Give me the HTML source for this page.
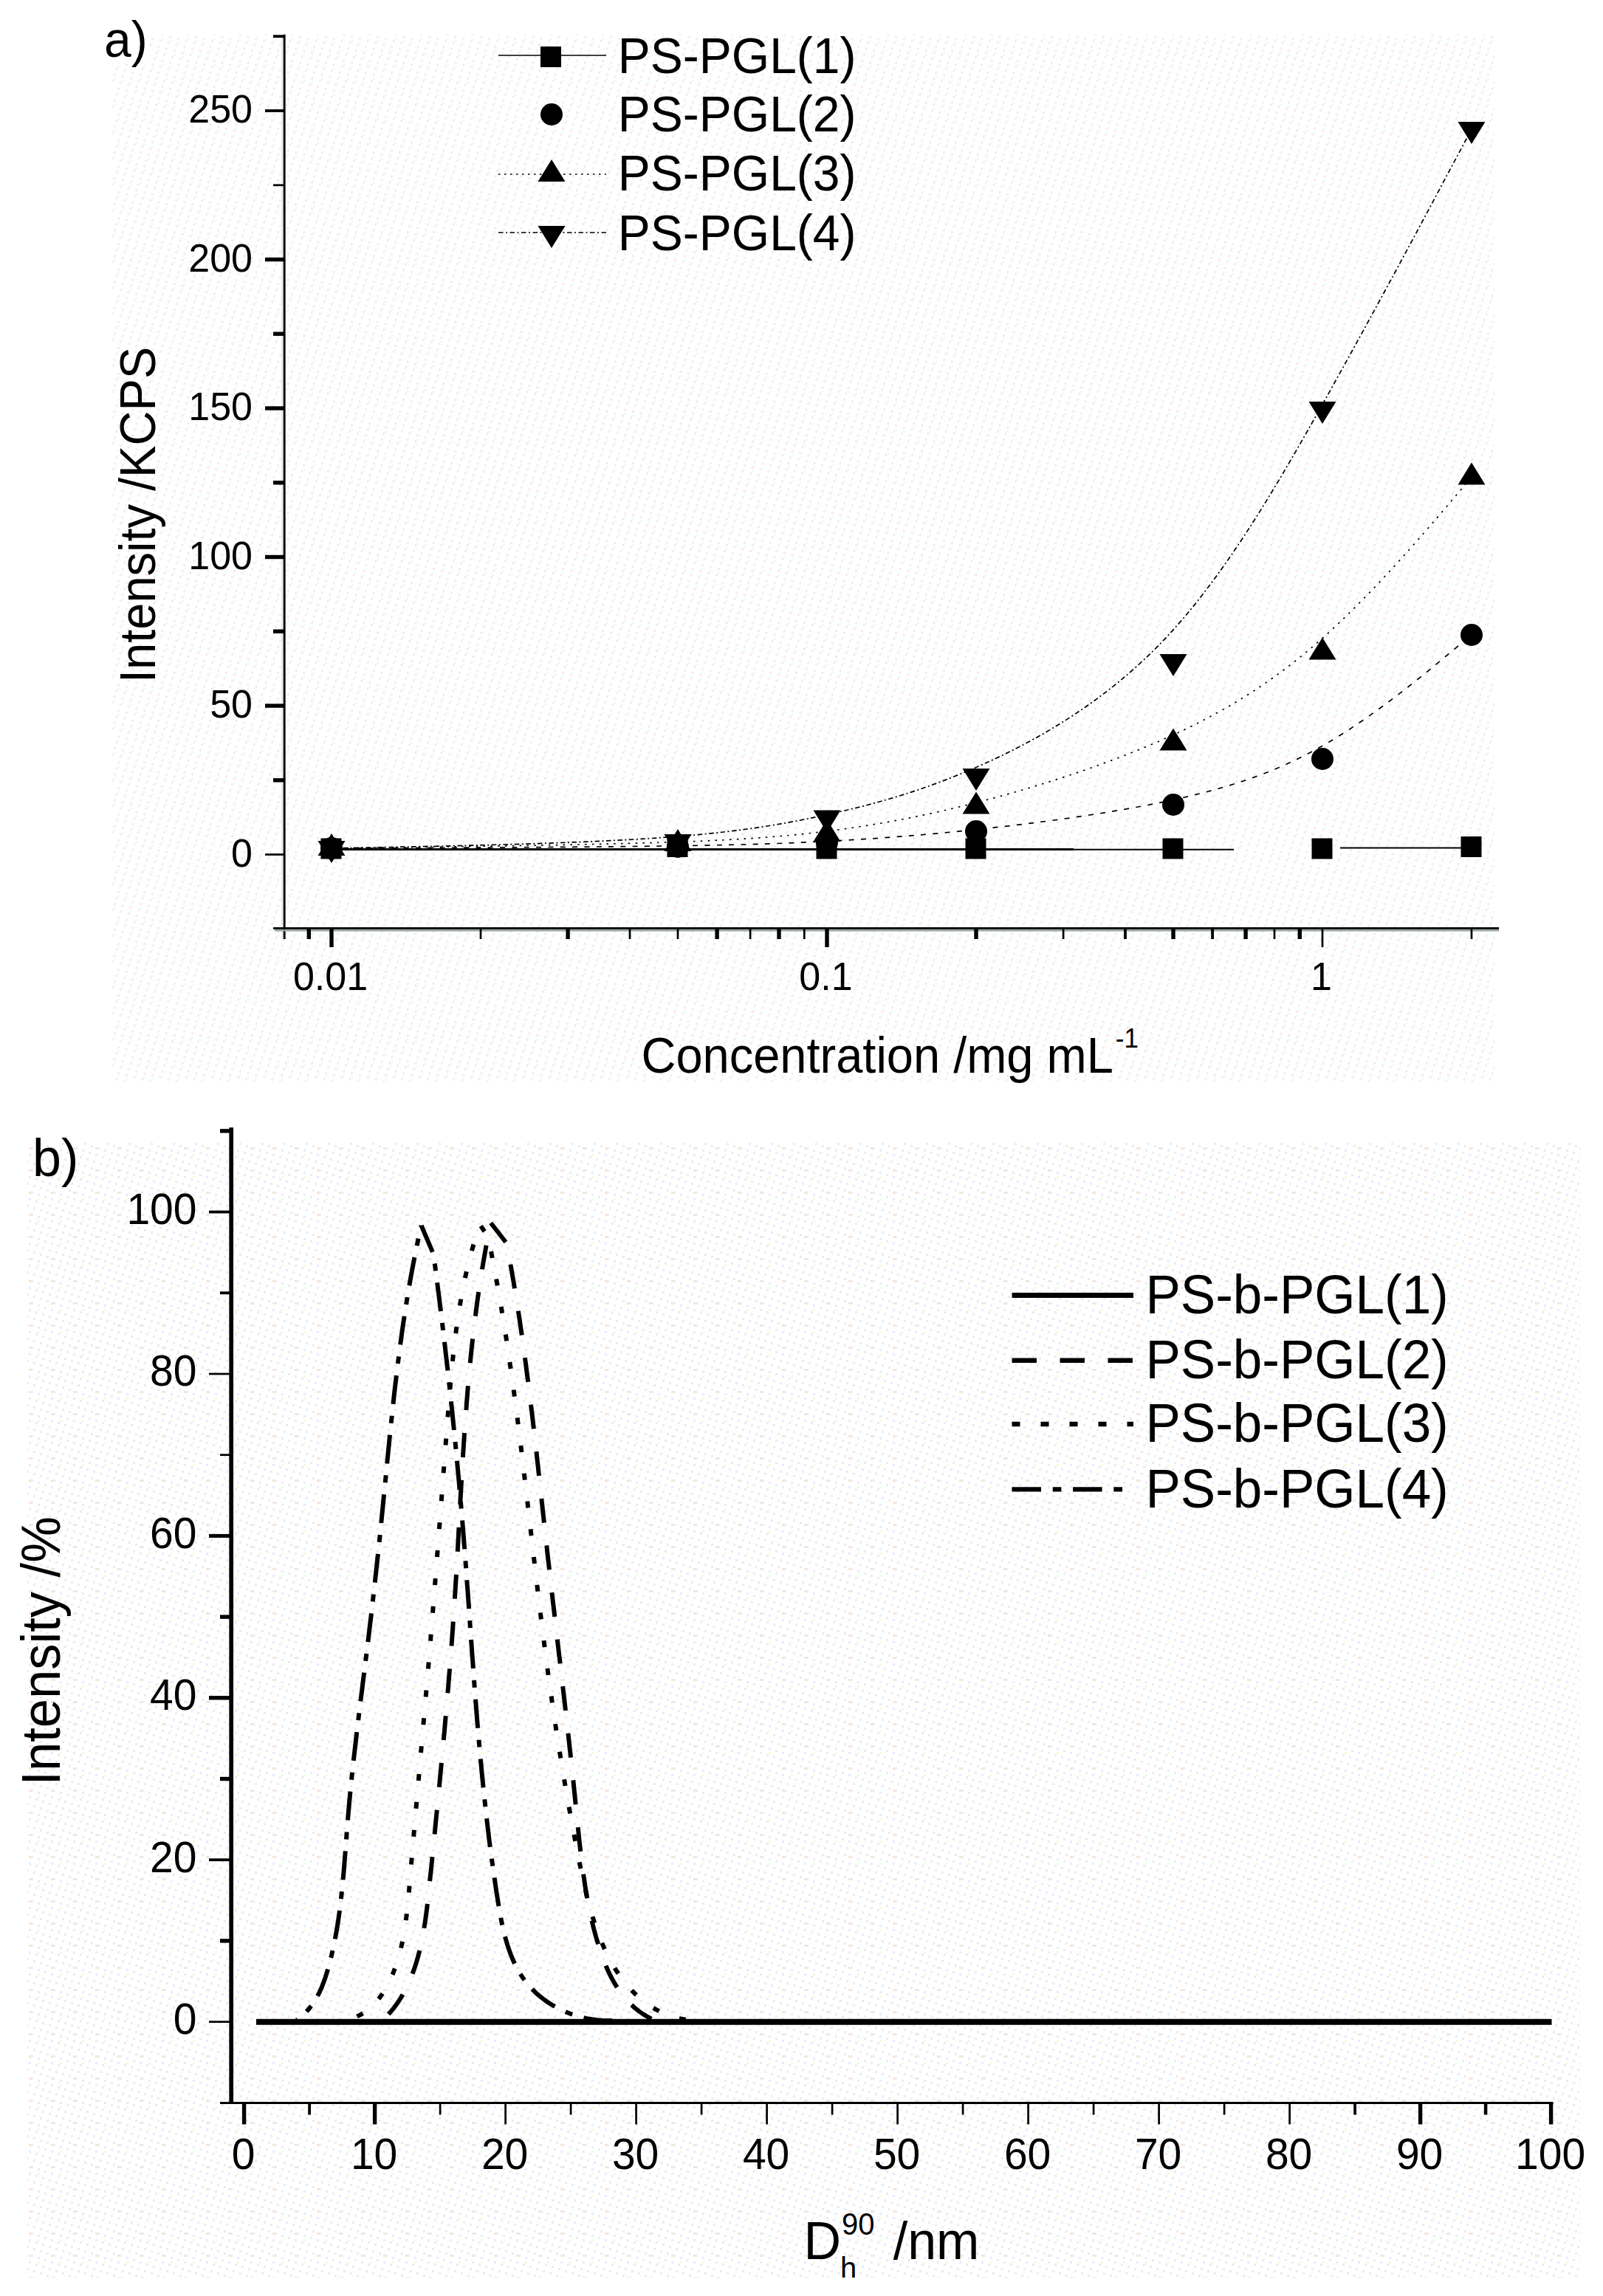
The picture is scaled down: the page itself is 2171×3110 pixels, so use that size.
<!DOCTYPE html>
<html lang="en"><head><meta charset="utf-8"><title>Light scattering of PS-PGL block copolymers</title>
<style>html,body{margin:0;padding:0;background:#fff}svg{display:block}text{font-family:"Liberation Sans",Arial,Helvetica,sans-serif;fill:#000}</style></head><body>
<svg width="2171" height="3110" viewBox="0 0 2171 3110">
<defs>
<pattern id="dithA" width="35.1" height="35.1" patternUnits="userSpaceOnUse"><rect x="0" y="0" width="2.7" height="2.7" fill="#f4e6e6"/><rect x="2.7" y="32.4" width="2.7" height="2.7" fill="#e6fbff"/><rect x="2.7" y="27" width="2.7" height="2.7" fill="#f4e6e6"/><rect x="5.4" y="18.9" width="2.7" height="2.7" fill="#f4e6e6"/><rect x="8.1" y="16.2" width="2.7" height="2.7" fill="#e6fbff"/><rect x="8.1" y="10.8" width="2.7" height="2.7" fill="#f4e6e6"/><rect x="10.8" y="2.7" width="2.7" height="2.7" fill="#f4e6e6"/><rect x="13.5" y="0" width="2.7" height="2.7" fill="#e6fbff"/><rect x="13.5" y="29.7" width="2.7" height="2.7" fill="#f4e6e6"/><rect x="16.2" y="21.6" width="2.7" height="2.7" fill="#f4e6e6"/><rect x="18.9" y="18.9" width="2.7" height="2.7" fill="#e6fbff"/><rect x="18.9" y="13.5" width="2.7" height="2.7" fill="#f4e6e6"/><rect x="21.6" y="5.4" width="2.7" height="2.7" fill="#f4e6e6"/><rect x="24.3" y="2.7" width="2.7" height="2.7" fill="#e6fbff"/><rect x="24.3" y="32.4" width="2.7" height="2.7" fill="#f4e6e6"/><rect x="27" y="24.3" width="2.7" height="2.7" fill="#f4e6e6"/><rect x="29.7" y="21.6" width="2.7" height="2.7" fill="#e6fbff"/><rect x="29.7" y="16.2" width="2.7" height="2.7" fill="#f4e6e6"/><rect x="32.4" y="8.1" width="2.7" height="2.7" fill="#f4e6e6"/><rect x="0" y="5.4" width="2.7" height="2.7" fill="#e6fbff"/></pattern>
<pattern id="dithB" width="30" height="30" patternUnits="userSpaceOnUse"><rect x="0" y="0" width="3" height="3" fill="#eaeaf7"/><rect x="3" y="21" width="3" height="3" fill="#eaeaf7"/><rect x="9" y="24" width="3" height="3" fill="#ffe3cf"/><rect x="6" y="12" width="3" height="3" fill="#eaeaf7"/><rect x="9" y="3" width="3" height="3" fill="#eaeaf7"/><rect x="12" y="24" width="3" height="3" fill="#eaeaf7"/><rect x="15" y="15" width="3" height="3" fill="#eaeaf7"/><rect x="18" y="6" width="3" height="3" fill="#eaeaf7"/><rect x="21" y="3" width="3" height="3" fill="#efffda"/><rect x="21" y="27" width="3" height="3" fill="#eaeaf7"/><rect x="24" y="18" width="3" height="3" fill="#eaeaf7"/><rect x="27" y="9" width="3" height="3" fill="#eaeaf7"/></pattern>
<clipPath id="clipb"><rect x="0" y="0" width="2171" height="3085"/></clipPath>
</defs>
<rect width="2171" height="3110" fill="#fff"/>
<rect x="152" y="47" width="1872" height="1418" fill="url(#dithA)"/>
<rect x="37" y="1548" width="2103" height="1537" fill="url(#dithB)"/>
<g id="panel-a" stroke="#000" fill="#000">
<line x1="382.6" y1="50" x2="382.6" y2="1272" stroke="#e7e4dd" stroke-width="2.6"/>
<line x1="385.2" y1="46.7" x2="385.2" y2="1272" stroke-width="2.8"/>
<line x1="370" y1="1257.4" x2="2030" y2="1257.4" stroke-width="2.8"/>
<line x1="372" y1="1260.2" x2="2030" y2="1260.2" stroke="#9aa5a5" stroke-width="2.6"/>
<line x1="359" y1="1157.5" x2="385" y2="1157.5" stroke-width="2.7"/>
<line x1="359" y1="956" x2="385" y2="956" stroke-width="5.4"/>
<line x1="359" y1="754.5" x2="385" y2="754.5" stroke-width="5.4"/>
<line x1="359" y1="553" x2="385" y2="553" stroke-width="5.4"/>
<line x1="359" y1="351.5" x2="385" y2="351.5" stroke-width="5.4"/>
<line x1="359" y1="150" x2="385" y2="150" stroke-width="3.8"/>
<line x1="370" y1="1056.8" x2="385" y2="1056.8" stroke-width="5.4"/>
<line x1="370" y1="855.2" x2="385" y2="855.2" stroke-width="5.4"/>
<line x1="370" y1="653.8" x2="385" y2="653.8" stroke-width="5.4"/>
<line x1="370" y1="452.2" x2="385" y2="452.2" stroke-width="5.4"/>
<line x1="370" y1="250.8" x2="385" y2="250.8" stroke-width="2.7"/>
<line x1="370" y1="49.2" x2="385" y2="49.2" stroke-width="3.8"/>
<line x1="449" y1="1257" x2="449" y2="1283" stroke-width="5.4"/>
<line x1="1120" y1="1257" x2="1120" y2="1283" stroke-width="5.4"/>
<line x1="1791" y1="1257" x2="1791" y2="1283" stroke-width="2.7"/>
<line x1="418.3" y1="1257" x2="418.3" y2="1272" stroke-width="5.4"/>
<line x1="651" y1="1257" x2="651" y2="1272" stroke-width="2.7"/>
<line x1="769.1" y1="1257" x2="769.1" y2="1272" stroke-width="5.4"/>
<line x1="853" y1="1257" x2="853" y2="1272" stroke-width="2.7"/>
<line x1="918" y1="1257" x2="918" y2="1272" stroke-width="2.7"/>
<line x1="971.1" y1="1257" x2="971.1" y2="1272" stroke-width="5.4"/>
<line x1="1016.1" y1="1257" x2="1016.1" y2="1272" stroke-width="2.7"/>
<line x1="1055" y1="1257" x2="1055" y2="1272" stroke-width="5.4"/>
<line x1="1089.3" y1="1257" x2="1089.3" y2="1272" stroke-width="2.7"/>
<line x1="1322" y1="1257" x2="1322" y2="1272" stroke-width="5.4"/>
<line x1="1440.1" y1="1257" x2="1440.1" y2="1272" stroke-width="2.7"/>
<line x1="1524" y1="1257" x2="1524" y2="1272" stroke-width="3.8"/>
<line x1="1589" y1="1257" x2="1589" y2="1272" stroke-width="5.4"/>
<line x1="1642.1" y1="1257" x2="1642.1" y2="1272" stroke-width="3.8"/>
<line x1="1687.1" y1="1257" x2="1687.1" y2="1272" stroke-width="5.4"/>
<line x1="1726" y1="1257" x2="1726" y2="1272" stroke-width="2.7"/>
<line x1="1760.3" y1="1257" x2="1760.3" y2="1272" stroke-width="5.4"/>
<line x1="1993" y1="1257" x2="1993" y2="1272" stroke-width="2.7"/>
</g>
<g id="labels-a" stroke="none">
<text transform="translate(342 1173.5) scale(1 1.04)" font-size="52" text-anchor="end">0</text>
<text transform="translate(342 972) scale(1 1.04)" font-size="52" text-anchor="end">50</text>
<text transform="translate(342 770.5) scale(1 1.04)" font-size="52" text-anchor="end">100</text>
<text transform="translate(342 569) scale(1 1.04)" font-size="52" text-anchor="end">150</text>
<text transform="translate(342 367.5) scale(1 1.04)" font-size="52" text-anchor="end">200</text>
<text transform="translate(342 166) scale(1 1.04)" font-size="52" text-anchor="end">250</text>
<text transform="translate(447.5 1341) scale(1 1.04)" font-size="52" text-anchor="middle">0.01</text>
<text transform="translate(1118.5 1341) scale(1 1.04)" font-size="52" text-anchor="middle">0.1</text>
<text transform="translate(1789.5 1341) scale(1 1.04)" font-size="52" text-anchor="middle">1</text>
<rect x="138" y="28" width="64" height="58" fill="#fff"/>
<text transform="translate(141 76.5) scale(1 1.04)" font-size="66" text-anchor="start">a)</text>
<text transform="translate(868.5 1452.5) scale(1 1.04)" font-size="65" text-anchor="start">Concentration /mg mL<tspan font-size="35" dy="-32" dx="3">-1</tspan></text>
<text transform="translate(209.7 925) rotate(-90) scale(1 1.04)" font-size="65">Intensity /KCPS</text>
</g>
<g id="curves-a" fill="none" stroke="#000" stroke-width="1.7">
<line x1="449" y1="1150.5" x2="1454" y2="1150.5" stroke-width="3"/>
<line x1="1454" y1="1150.8" x2="1671" y2="1150.8" stroke-width="2"/>
<line x1="1815" y1="1148.5" x2="1993" y2="1148.5" stroke-width="2"/>
<path d="M449 1149C449 1149 449 1149 527.2 1148.7C605.3 1148.3 761.7 1147.7 873.5 1146.3C985.3 1145 1052.7 1143 1120 1139.5C1187.3 1136 1254.7 1131 1332.8 1122.5C1411 1114 1500 1102 1578.2 1085.7C1656.3 1069.3 1723.7 1048.7 1791 1010.3C1858.3 972 1925.7 916 1959.3 888C1993 860 1993 860 1993 860" stroke-dasharray="7 9.3"/>
<path d="M449 1149C449 1149 449 1149 527.2 1148C605.3 1147 761.7 1145 873.5 1141.8C985.3 1138.7 1052.7 1134.3 1120 1125.9C1187.3 1117.5 1254.7 1105 1332.8 1084.4C1411 1063.8 1500 1035.2 1578.2 1000.3C1656.3 965.5 1723.7 924.5 1791 864.5C1858.3 804.5 1925.7 725.5 1959.3 686C1993 646.5 1993 646.5 1993 646.5" stroke-dasharray="2.5 7.3"/>
<path d="M449 1149C449 1149 449 1149 527.2 1147.5C605.3 1146 761.7 1143 873.5 1136.1C985.3 1129.2 1052.7 1118.3 1120 1103.5C1187.3 1088.7 1254.7 1069.8 1332.8 1034.6C1411 999.3 1500 947.7 1578.2 864.8C1656.3 782 1723.7 668 1791 547.8C1858.3 427.7 1925.7 301.3 1959.3 238.2C1993 175 1993 175 1993 175" stroke-dasharray="6.5 3.5 2 3.5"/>
</g>
<g id="markers-a" fill="#000" stroke="none">
<rect x="434.5" y="1135.5" width="28" height="28"/>
<rect x="903.5" y="1133" width="28" height="28"/>
<rect x="1105.5" y="1135.5" width="28" height="28"/>
<rect x="1307.5" y="1135.5" width="28" height="28"/>
<rect x="1574.5" y="1135.5" width="28" height="28"/>
<rect x="1776.5" y="1135.5" width="28" height="28"/>
<rect x="1978.5" y="1133" width="28" height="28"/>
<circle cx="449" cy="1149" r="15"/>
<circle cx="918" cy="1147" r="15"/>
<circle cx="1120" cy="1141" r="15"/>
<circle cx="1322" cy="1126" r="15"/>
<circle cx="1589" cy="1090" r="15"/>
<circle cx="1791" cy="1028" r="15"/>
<circle cx="1993" cy="860" r="15"/>
<path d="M449 1129L467.5 1159H430.5Z"/>
<path d="M918 1123L936.5 1153H899.5Z"/>
<path d="M1120 1110L1138.5 1140H1101.5Z"/>
<path d="M1322 1072.5L1340.5 1102.5H1303.5Z"/>
<path d="M1589 986.5L1607.5 1016.5H1570.5Z"/>
<path d="M1791 863.5L1809.5 893.5H1772.5Z"/>
<path d="M1993 626.5L2011.5 656.5H1974.5Z"/>
<path d="M449 1169L467.5 1139H430.5Z"/>
<path d="M918 1160L936.5 1130H899.5Z"/>
<path d="M1120 1127.5L1138.5 1097.5H1101.5Z"/>
<path d="M1322 1071L1340.5 1041H1303.5Z"/>
<path d="M1589 916L1607.5 886H1570.5Z"/>
<path d="M1791 574L1809.5 544H1772.5Z"/>
<path d="M1993 195L2011.5 165H1974.5Z"/>
</g>
<g id="legend-a" fill="#000" stroke="#000">
<line x1="675" y1="75" x2="821" y2="75" stroke-width="1.7"/>
<line x1="675" y1="236" x2="821" y2="236" stroke-width="1.7" stroke-dasharray="2.5 5.5"/>
<line x1="675" y1="315" x2="821" y2="315" stroke-width="1.7" stroke-dasharray="6.5 3.5 2 3.5"/>
<g stroke="none">
<rect x="732" y="63" width="28" height="28"/>
<circle cx="747" cy="155" r="15"/>
<path d="M747 216L765.5 246H728.5Z"/>
<path d="M747 336L765.5 306H728.5Z"/>
<text transform="translate(836.8 98.5) scale(1 1.04)" font-size="66" text-anchor="start">PS-PGL(1)</text>
<text transform="translate(836.8 178.3) scale(1 1.04)" font-size="66" text-anchor="start">PS-PGL(2)</text>
<text transform="translate(836.8 258) scale(1 1.04)" font-size="66" text-anchor="start">PS-PGL(3)</text>
<text transform="translate(836.8 338.5) scale(1 1.04)" font-size="66" text-anchor="start">PS-PGL(4)</text>
</g></g>
<g id="panel-b" stroke="#000" fill="#000">
<line x1="313.2" y1="1527.3" x2="313.2" y2="2850" stroke-width="5.7"/>
<line x1="298" y1="2848.5" x2="2103.6" y2="2848.5" stroke-width="3"/>
<line x1="283" y1="2738.6" x2="313" y2="2738.6" stroke-width="2.7"/>
<line x1="283" y1="2519.2" x2="313" y2="2519.2" stroke-width="3.8"/>
<line x1="283" y1="2299.8" x2="313" y2="2299.8" stroke-width="5.4"/>
<line x1="283" y1="2080.4" x2="313" y2="2080.4" stroke-width="5"/>
<line x1="283" y1="1861" x2="313" y2="1861" stroke-width="2.7"/>
<line x1="283" y1="1641.6" x2="313" y2="1641.6" stroke-width="3.8"/>
<line x1="298" y1="2628.9" x2="313" y2="2628.9" stroke-width="5.4"/>
<line x1="298" y1="2409.5" x2="313" y2="2409.5" stroke-width="5.4"/>
<line x1="298" y1="2190.1" x2="313" y2="2190.1" stroke-width="5.4"/>
<line x1="298" y1="1970.7" x2="313" y2="1970.7" stroke-width="2.7"/>
<line x1="298" y1="1751.3" x2="313" y2="1751.3" stroke-width="3.8"/>
<line x1="298" y1="1531.9" x2="313" y2="1531.9" stroke-width="5.4"/>
<line x1="330.6" y1="2848.5" x2="330.6" y2="2877.5" stroke-width="5.4"/>
<line x1="507.6" y1="2848.5" x2="507.6" y2="2877.5" stroke-width="5.4"/>
<line x1="684.6" y1="2848.5" x2="684.6" y2="2877.5" stroke-width="2.7"/>
<line x1="861.6" y1="2848.5" x2="861.6" y2="2877.5" stroke-width="2.7"/>
<line x1="1038.6" y1="2848.5" x2="1038.6" y2="2877.5" stroke-width="2.7"/>
<line x1="1215.6" y1="2848.5" x2="1215.6" y2="2877.5" stroke-width="2.7"/>
<line x1="1392.6" y1="2848.5" x2="1392.6" y2="2877.5" stroke-width="2.7"/>
<line x1="1569.6" y1="2848.5" x2="1569.6" y2="2877.5" stroke-width="2.7"/>
<line x1="1746.6" y1="2848.5" x2="1746.6" y2="2877.5" stroke-width="2.7"/>
<line x1="1923.6" y1="2848.5" x2="1923.6" y2="2877.5" stroke-width="5.4"/>
<line x1="2100.6" y1="2848.5" x2="2100.6" y2="2877.5" stroke-width="5.4"/>
<line x1="419.1" y1="2848.5" x2="419.1" y2="2864.5" stroke-width="3.8"/>
<line x1="596.1" y1="2848.5" x2="596.1" y2="2864.5" stroke-width="2.7"/>
<line x1="773.1" y1="2848.5" x2="773.1" y2="2864.5" stroke-width="2.7"/>
<line x1="950.1" y1="2848.5" x2="950.1" y2="2864.5" stroke-width="2.7"/>
<line x1="1127.1" y1="2848.5" x2="1127.1" y2="2864.5" stroke-width="2.7"/>
<line x1="1304.1" y1="2848.5" x2="1304.1" y2="2864.5" stroke-width="2.7"/>
<line x1="1481.1" y1="2848.5" x2="1481.1" y2="2864.5" stroke-width="2.7"/>
<line x1="1658.1" y1="2848.5" x2="1658.1" y2="2864.5" stroke-width="2.7"/>
<line x1="1835.1" y1="2848.5" x2="1835.1" y2="2864.5" stroke-width="3.8"/>
<line x1="2012.1" y1="2848.5" x2="2012.1" y2="2864.5" stroke-width="4.5"/>
</g>
<g id="labels-b" stroke="none">
<text transform="translate(266.5 2754.9) scale(1 1.04)" font-size="57" text-anchor="end">0</text>
<text transform="translate(266.5 2535.5) scale(1 1.04)" font-size="57" text-anchor="end">20</text>
<text transform="translate(266.5 2316.1) scale(1 1.04)" font-size="57" text-anchor="end">40</text>
<text transform="translate(266.5 2096.7) scale(1 1.04)" font-size="57" text-anchor="end">60</text>
<text transform="translate(266.5 1877.3) scale(1 1.04)" font-size="57" text-anchor="end">80</text>
<text transform="translate(266.5 1657.9) scale(1 1.04)" font-size="57" text-anchor="end">100</text>
<text transform="translate(329.6 2938.2) scale(1 1.04)" font-size="57" text-anchor="middle">0</text>
<text transform="translate(506.6 2938.2) scale(1 1.04)" font-size="57" text-anchor="middle">10</text>
<text transform="translate(683.6 2938.2) scale(1 1.04)" font-size="57" text-anchor="middle">20</text>
<text transform="translate(860.6 2938.2) scale(1 1.04)" font-size="57" text-anchor="middle">30</text>
<text transform="translate(1037.6 2938.2) scale(1 1.04)" font-size="57" text-anchor="middle">40</text>
<text transform="translate(1214.6 2938.2) scale(1 1.04)" font-size="57" text-anchor="middle">50</text>
<text transform="translate(1391.6 2938.2) scale(1 1.04)" font-size="57" text-anchor="middle">60</text>
<text transform="translate(1568.6 2938.2) scale(1 1.04)" font-size="57" text-anchor="middle">70</text>
<text transform="translate(1745.6 2938.2) scale(1 1.04)" font-size="57" text-anchor="middle">80</text>
<text transform="translate(1922.6 2938.2) scale(1 1.04)" font-size="57" text-anchor="middle">90</text>
<text transform="translate(2099.6 2938.2) scale(1 1.04)" font-size="57" text-anchor="middle">100</text>
<text transform="translate(44 1592.7) scale(1 1.04)" font-size="70" text-anchor="start">b)</text>
<g clip-path="url(#clipb)">
<text transform="translate(1088.5 3060) scale(1 1.04)" font-size="70" text-anchor="start">D<tspan font-size="40" dy="-32.2" dx="1">90</tspan><tspan font-size="40" dy="57.7" dx="-46.5">h</tspan><tspan dy="-25.5" dx="30"> /nm</tspan></text>
</g>
<text transform="translate(80.8 2418.5) rotate(-90) scale(1 1.04)" font-size="70.5">Intensity /%</text>
</g>
<g id="curves-b" fill="none" stroke="#000" stroke-width="6" stroke-linejoin="round">
<line x1="347" y1="2738.8" x2="2101.5" y2="2738.8" stroke-width="8"/>
<path d="M664.7 1656.5L663.3 1663.4L661.9 1670.2L660.5 1677.1L659.2 1684L657.9 1690.8L656.7 1697.7L655.5 1704.6L654.3 1711.5L653.1 1718.4L652 1725.4L650.9 1732.3L649.9 1739.2L648.8 1746.1L647.8 1753L646.8 1760L645.9 1766.9L645 1773.9L644.1 1780.8L643.2 1787.7L642.3 1794.7L641.5 1801.6L640.7 1808.6L639.9 1815.6L639.2 1822.5L638.4 1829.5L637.7 1836.4L637 1843.4L636.4 1850.4L635.7 1857.4L635.1 1864.3L634.4 1871.3L633.8 1878.3L633.2 1885.2L632.7 1892.2L632.1 1899.2L631.6 1906.2L631 1913.2L630.5 1920.2L630 1927.1L629.5 1934.1L629 1941.1L628.6 1948.1L628.1 1955.1L627.7 1962.1L627.2 1969.1L626.8 1976L626.4 1983L625.9 1990L625.5 1997L625.1 2004L624.7 2011L624.3 2018L623.9 2025L623.5 2032L623.2 2038.9L622.8 2045.9L622.4 2052.9L622 2059.9L621.6 2066.9L621.2 2073.9L620.9 2080.9L620.5 2087.9L620.1 2094.9L619.7 2101.9L619.3 2108.9L618.9 2115.8L618.5 2122.8L618.1 2129.8L617.7 2136.8L617.2 2143.8L616.8 2150.8L616.4 2157.8L615.9 2164.8L615.5 2171.8L615 2178.7L614.5 2185.7L614.1 2192.7L613.6 2199.7L613.1 2206.7L612.6 2213.7L612.1 2220.6L611.6 2227.6L611 2234.6L610.5 2241.6L610 2248.6L609.4 2255.6L608.9 2262.5L608.3 2269.5L607.7 2276.5L607.2 2283.5L606.6 2290.4L606 2297.4L605.4 2304.4L604.8 2311.4L604.2 2318.4L603.6 2325.3L603 2332.3L602.4 2339.3L601.8 2346.3L601.1 2353.2L600.5 2360.2L599.9 2367.2L599.2 2374.1L598.6 2381.1L597.9 2388.1L597.3 2395.1L596.6 2402L595.9 2409L595.3 2416L594.6 2422.9L593.9 2429.9L593.3 2436.9L592.6 2443.8L591.9 2450.8L591.2 2457.8L590.5 2464.7L589.8 2471.7L589.2 2478.7L588.5 2485.7L587.8 2492.6L587.1 2499.6L586.4 2506.6L585.7 2513.5L585 2520.5L584.3 2527.5L583.6 2534.4L582.8 2541.4L582.1 2548.3L581.4 2555.3L580.7 2562.3L580 2569.2L579.2 2576.2L578.4 2583.2L577.5 2590.1L576.6 2597L575.6 2604L574.5 2610.9L573.3 2617.8L572.1 2624.7L570.7 2631.5L569.2 2638.4L567.5 2645.2L565.7 2651.9L563.7 2658.7L561.6 2665.3L559.2 2671.9L556.7 2678.5L554 2684.9L551 2691.2L547.8 2697.5L544.4 2703.6L540.7 2709.5L536.8 2715.3L532.6 2720.9L528 2726.3L523.2 2731.3L518 2736" stroke-dasharray="33 31" stroke-dashoffset="33"/>
<path d="M664.7 1656.5L686 1683.8L687.3 1690.7L688.6 1697.6L689.9 1704.5L691.1 1711.4L692.4 1718.3L693.6 1725.2L694.8 1732.1L696 1739.1L697.1 1746L698.2 1752.9L699.4 1759.8L700.5 1766.8L701.5 1773.7L702.6 1780.6L703.7 1787.6L704.7 1794.5L705.7 1801.5L706.7 1808.4L707.7 1815.3L708.7 1822.3L709.6 1829.2L710.6 1836.2L711.5 1843.2L712.4 1850.1L713.3 1857.1L714.2 1864L715.1 1871L716 1878L716.9 1884.9L717.7 1891.9L718.6 1898.9L719.4 1905.8L720.3 1912.8L721.1 1919.8L721.9 1926.7L722.7 1933.7L723.5 1940.7L724.3 1947.6L725.1 1954.6L725.9 1961.6L726.7 1968.6L727.4 1975.5L728.2 1982.5L729 1989.5L729.7 1996.5L730.5 2003.4L731.3 2010.4L732 2017.4L732.8 2024.4L733.5 2031.3L734.3 2038.3L735 2045.3L735.8 2052.3L736.6 2059.3L737.3 2066.2L738.1 2073.2L738.8 2080.2L739.6 2087.2L740.4 2094.1L741.1 2101.1L741.9 2108.1L742.7 2115.1L743.5 2122L744.3 2129L745.1 2136L745.8 2143L746.6 2149.9L747.4 2156.9L748.2 2163.9L749 2170.8L749.9 2177.8L750.7 2184.8L751.5 2191.8L752.3 2198.7L753.1 2205.7L753.9 2212.7L754.7 2219.6L755.5 2226.6L756.3 2233.6L757.1 2240.6L758 2247.5L758.8 2254.5L759.6 2261.5L760.4 2268.4L761.2 2275.4L762 2282.4L762.8 2289.3L763.6 2296.3L764.4 2303.3L765.2 2310.3L766 2317.2L766.8 2324.2L767.6 2331.2L768.3 2338.2L769.1 2345.1L769.9 2352.1L770.7 2359.1L771.4 2366.1L772.2 2373L773 2380L773.7 2387L774.5 2394L775.2 2400.9L775.9 2407.9L776.7 2414.9L777.4 2421.9L778.1 2428.9L778.8 2435.8L779.5 2442.8L780.2 2449.8L780.9 2456.8L781.6 2463.8L782.3 2470.8L783 2477.7L783.7 2484.7L784.4 2491.7L785.2 2498.7L786 2505.7L786.8 2512.6L787.6 2519.6L788.5 2526.6L789.4 2533.5L790.4 2540.5L791.4 2547.4L792.4 2554.4L793.6 2561.3L794.7 2568.2L796 2575.1L797.3 2582L798.7 2588.9L800.2 2595.7L801.8 2602.6L803.4 2609.4L805.2 2616.2L807 2623L809 2629.7L811.1 2636.4L813.2 2643.1L815.5 2649.7L818 2656.3L820.6 2662.8L823.4 2669.2L826.4 2675.5L829.7 2681.8L833.2 2687.9L836.9 2693.8L841 2699.5L845.3 2705.1L849.9 2710.3L854.8 2715.3L860 2720L865.5 2724.4L871.3 2728.4L877.3 2732L883.6 2735.2L890 2738" stroke-dasharray="33 31"/>
<path d="M650 1659L647.7 1665.6L645.5 1672.3L643.4 1679L641.4 1685.7L639.5 1692.4L637.6 1699.2L635.8 1706L634.1 1712.8L632.5 1719.6L630.9 1726.5L629.4 1733.3L628 1740.2L626.6 1747.1L625.3 1754L624.1 1760.9L622.9 1767.8L621.8 1774.7L620.7 1781.6L619.6 1788.6L618.7 1795.5L617.7 1802.5L616.8 1809.4L616 1816.4L615.2 1823.3L614.4 1830.3L613.6 1837.3L612.9 1844.3L612.2 1851.3L611.6 1858.2L610.9 1865.2L610.3 1872.2L609.7 1879.2L609.1 1886.2L608.6 1893.2L608 1900.2L607.4 1907.2L606.9 1914.2L606.3 1921.2L605.8 1928.1L605.3 1935.1L604.7 1942.1L604.2 1949.1L603.6 1956.1L603.1 1963.1L602.6 1970.1L602 1977.1L601.5 1984.1L601 1991.1L600.4 1998.1L599.9 2005.1L599.4 2012.1L598.8 2019.1L598.3 2026.1L597.8 2033.1L597.2 2040.1L596.7 2047.1L596.2 2054L595.7 2061L595.1 2068L594.6 2075L594.1 2082L593.5 2089L593 2096L592.4 2103L591.9 2110L591.4 2117L590.8 2124L590.3 2131L589.7 2138L589.2 2145L588.7 2152L588.1 2159L587.6 2165.9L587 2172.9L586.4 2179.9L585.9 2186.9L585.3 2193.9L584.8 2200.9L584.2 2207.9L583.6 2214.9L583.1 2221.9L582.5 2228.9L581.9 2235.9L581.3 2242.9L580.8 2249.9L580.2 2256.8L579.6 2263.8L579 2270.8L578.4 2277.8L577.8 2284.8L577.2 2291.8L576.6 2298.8L576 2305.8L575.4 2312.8L574.8 2319.7L574.2 2326.7L573.6 2333.7L573 2340.7L572.4 2347.7L571.8 2354.7L571.1 2361.7L570.5 2368.7L569.9 2375.7L569.3 2382.6L568.7 2389.6L568.1 2396.6L567.5 2403.6L566.9 2410.6L566.3 2417.6L565.6 2424.6L565 2431.6L564.4 2438.5L563.8 2445.5L563.2 2452.5L562.6 2459.5L562 2466.5L561.4 2473.5L560.8 2480.5L560.2 2487.5L559.6 2494.5L559 2501.4L558.4 2508.4L557.8 2515.4L557.2 2522.4L556.6 2529.4L556.1 2536.4L555.5 2543.4L554.9 2550.4L554.3 2557.4L553.7 2564.4L553.1 2571.3L552.4 2578.3L551.7 2585.3L550.9 2592.3L550 2599.2L549.1 2606.2L548 2613.1L546.9 2620L545.6 2626.9L544.2 2633.8L542.6 2640.6L540.8 2647.4L538.9 2654.2L536.8 2660.9L534.4 2667.5L531.9 2674L529.1 2680.4L526 2686.7L522.6 2692.9L519 2698.9L515.1 2704.7L510.8 2710.2L506.1 2715.5L501 2720.2L495.4 2724.6L489.5 2728.3L483.3 2731.5L476.7 2734L470 2736" stroke-dasharray="9 29" stroke-dashoffset="10"/>
<path d="M650 1659L661 1675L662.4 1681.9L663.8 1688.8L665.2 1695.7L666.5 1702.6L667.9 1709.5L669.2 1716.4L670.5 1723.3L671.7 1730.2L673 1737.1L674.2 1744L675.5 1751L676.7 1757.9L677.8 1764.8L679 1771.8L680.1 1778.7L681.3 1785.6L682.4 1792.6L683.5 1799.5L684.6 1806.5L685.7 1813.4L686.7 1820.4L687.8 1827.3L688.8 1834.3L689.8 1841.2L690.8 1848.2L691.8 1855.1L692.8 1862.1L693.8 1869.1L694.7 1876L695.7 1883L696.6 1889.9L697.5 1896.9L698.5 1903.9L699.4 1910.9L700.3 1917.8L701.2 1924.8L702 1931.8L702.9 1938.8L703.8 1945.7L704.7 1952.7L705.5 1959.7L706.4 1966.7L707.2 1973.6L708 1980.6L708.9 1987.6L709.7 1994.6L710.5 2001.6L711.3 2008.5L712.2 2015.5L713 2022.5L713.8 2029.5L714.6 2036.5L715.4 2043.5L716.2 2050.4L717 2057.4L717.8 2064.4L718.6 2071.4L719.4 2078.4L720.2 2085.4L721 2092.3L721.8 2099.3L722.6 2106.3L723.4 2113.3L724.2 2120.3L725.1 2127.3L725.9 2134.2L726.7 2141.2L727.5 2148.2L728.3 2155.2L729.1 2162.2L730 2169.1L730.8 2176.1L731.7 2183.1L732.5 2190.1L733.4 2197.1L734.2 2204L735.1 2211L736 2218L736.9 2225L737.7 2231.9L738.6 2238.9L739.6 2245.9L740.5 2252.9L741.4 2259.8L742.3 2266.8L743.3 2273.8L744.3 2280.7L745.2 2287.7L746.2 2294.6L747.2 2301.6L748.2 2308.6L749.2 2315.5L750.2 2322.5L751.2 2329.4L752.3 2336.4L753.3 2343.3L754.4 2350.3L755.5 2357.2L756.6 2364.2L757.7 2371.1L758.8 2378.1L759.9 2385L761 2391.9L762.2 2398.9L763.3 2405.8L764.5 2412.7L765.7 2419.7L766.9 2426.6L768.1 2433.5L769.3 2440.4L770.5 2447.4L771.8 2454.3L773 2461.2L774.3 2468.1L775.6 2475L776.8 2481.9L778.2 2488.8L779.5 2495.8L780.8 2502.7L782.1 2509.6L783.5 2516.5L784.9 2523.3L786.3 2530.2L787.7 2537.1L789.2 2544L790.7 2550.9L792.3 2557.7L793.9 2564.5L795.6 2571.4L797.3 2578.2L799.2 2585L801.1 2591.7L803.2 2598.4L805.3 2605.1L807.6 2611.8L809.9 2618.4L812.5 2625L815.1 2631.5L817.9 2637.9L820.9 2644.3L824 2650.6L827.3 2656.8L830.8 2662.9L834.5 2668.9L838.4 2674.7L842.5 2680.5L846.8 2686L851.3 2691.4L856.1 2696.6L861 2701.6L866.2 2706.3L871.6 2710.8L877.2 2715L883.1 2718.9L889.2 2722.4L895.4 2725.6L901.9 2728.4L908.5 2730.8L915.2 2732.9L922.1 2734.5L929 2735.7L936 2736.5L943 2736.9L950 2737" stroke-dasharray="9 29" stroke-dashoffset="36"/>
<path d="M570.6 1660L569 1666.9L567.5 1673.7L566 1680.6L564.6 1687.5L563.2 1694.4L561.8 1701.3L560.4 1708.2L559.1 1715.1L557.8 1722L556.5 1729L555.3 1735.9L554.1 1742.8L552.9 1749.8L551.7 1756.7L550.6 1763.7L549.5 1770.6L548.4 1777.6L547.4 1784.5L546.3 1791.5L545.3 1798.5L544.3 1805.4L543.4 1812.4L542.4 1819.4L541.5 1826.4L540.6 1833.4L539.7 1840.3L538.8 1847.3L537.9 1854.3L537.1 1861.3L536.3 1868.3L535.4 1875.3L534.6 1882.3L533.8 1889.3L533.1 1896.3L532.3 1903.3L531.5 1910.3L530.8 1917.3L530.1 1924.3L529.3 1931.3L528.6 1938.3L527.9 1945.3L527.2 1952.3L526.5 1959.3L525.8 1966.3L525.1 1973.3L524.4 1980.3L523.7 1987.3L523 1994.3L522.4 2001.3L521.7 2008.3L521 2015.3L520.3 2022.3L519.6 2029.3L518.9 2036.4L518.2 2043.4L517.5 2050.4L516.8 2057.4L516.1 2064.4L515.4 2071.4L514.7 2078.4L514 2085.4L513.3 2092.4L512.5 2099.4L511.8 2106.4L511 2113.4L510.3 2120.4L509.5 2127.4L508.7 2134.4L508 2141.4L507.2 2148.4L506.4 2155.4L505.6 2162.4L504.8 2169.4L504 2176.4L503.2 2183.4L502.4 2190.3L501.5 2197.3L500.7 2204.3L499.9 2211.3L499 2218.3L498.2 2225.3L497.3 2232.3L496.5 2239.3L495.6 2246.3L494.7 2253.2L493.9 2260.2L493 2267.2L492.1 2274.2L491.2 2281.2L490.4 2288.2L489.5 2295.2L488.6 2302.1L487.8 2309.1L486.9 2316.1L486 2323.1L485.2 2330.1L484.3 2337.1L483.5 2344.1L482.7 2351.1L481.9 2358.1L481.1 2365.1L480.3 2372L479.5 2379L478.7 2386L477.9 2393L477.2 2400L476.4 2407L475.7 2414L475 2421L474.3 2428.1L473.7 2435.1L473 2442.1L472.4 2449.1L471.8 2456.1L471.2 2463.1L470.6 2470.1L470.1 2477.1L469.5 2484.2L469 2491.2L468.4 2498.2L467.9 2505.2L467.4 2512.2L466.8 2519.3L466.3 2526.3L465.7 2533.3L465.1 2540.3L464.4 2547.3L463.8 2554.3L463 2561.3L462.3 2568.3L461.5 2575.3L460.7 2582.3L459.8 2589.3L458.8 2596.3L457.8 2603.2L456.7 2610.2L455.5 2617.1L454.2 2624.1L452.9 2631L451.4 2637.9L449.9 2644.7L448.3 2651.6L446.5 2658.4L444.7 2665.2L442.7 2671.9L440.6 2678.7L438.2 2685.3L435.7 2691.9L432.8 2698.3L429.6 2704.6L426.1 2710.6L422.1 2716.4L417.7 2721.9L412.9 2727.1L407.6 2731.7L402 2736" stroke-dasharray="39 16 10 16" stroke-dashoffset="37"/>
<path d="M570.6 1660L587 1698.6L587.9 1705.6L588.9 1712.5L589.8 1719.5L590.7 1726.5L591.6 1733.4L592.5 1740.4L593.4 1747.4L594.3 1754.4L595.2 1761.3L596 1768.3L596.9 1775.3L597.8 1782.3L598.6 1789.3L599.4 1796.2L600.3 1803.2L601.1 1810.2L601.9 1817.2L602.7 1824.2L603.5 1831.1L604.3 1838.1L605.1 1845.1L605.9 1852.1L606.7 1859.1L607.5 1866.1L608.2 1873.1L609 1880L609.8 1887L610.5 1894L611.2 1901L612 1908L612.7 1915L613.4 1922L614.1 1929L614.8 1936L615.5 1943L616.2 1950L616.9 1957L617.6 1964L618.2 1971L618.9 1978L619.5 1985L620.2 1992L620.8 1999L621.5 2006L622.1 2013L622.7 2020L623.3 2027L623.9 2034L624.5 2041L625.1 2048L625.7 2055L626.3 2062L626.9 2069L627.4 2076L628 2083L628.5 2090L629.1 2097L629.6 2104.1L630.2 2111.1L630.7 2118.1L631.2 2125.1L631.7 2132.1L632.2 2139.1L632.7 2146.1L633.3 2153.1L633.8 2160.1L634.3 2167.2L634.8 2174.2L635.3 2181.2L635.8 2188.2L636.3 2195.2L636.7 2202.2L637.2 2209.2L637.7 2216.2L638.2 2223.3L638.7 2230.3L639.2 2237.3L639.7 2244.3L640.3 2251.3L640.8 2258.3L641.3 2265.3L641.8 2272.3L642.3 2279.3L642.8 2286.4L643.4 2293.4L643.9 2300.4L644.5 2307.4L645 2314.4L645.6 2321.4L646.1 2328.4L646.7 2335.4L647.3 2342.4L647.9 2349.4L648.5 2356.4L649.1 2363.4L649.7 2370.4L650.4 2377.4L651 2384.4L651.7 2391.4L652.3 2398.4L653 2405.4L653.7 2412.4L654.4 2419.4L655.1 2426.4L655.9 2433.4L656.6 2440.4L657.4 2447.4L658.1 2454.4L658.9 2461.4L659.7 2468.3L660.6 2475.3L661.4 2482.3L662.2 2489.3L663.1 2496.3L664 2503.2L664.9 2510.2L665.9 2517.2L666.8 2524.1L667.8 2531.1L668.8 2538.1L669.8 2545L670.8 2552L671.8 2558.9L672.9 2565.9L674 2572.8L675.1 2579.8L676.3 2586.7L677.5 2593.6L678.8 2600.5L680.2 2607.4L681.8 2614.3L683.4 2621.1L685.3 2627.9L687.3 2634.6L689.5 2641.3L691.9 2647.9L694.6 2654.4L697.5 2660.8L700.8 2667L704.3 2673.1L708.1 2679L712.3 2684.6L716.8 2690.1L721.6 2695.2L726.6 2700.1L732 2704.7L737.5 2709L743.3 2713L749.3 2716.7L755.4 2720.1L761.7 2723.2L768.2 2726L774.7 2728.5L781.4 2730.7L788.2 2732.6L795.1 2734.1L802 2735.3L808.9 2736.3L815.9 2736.8L823 2737.1L830 2737" stroke-dasharray="39 16 10 16"/>
</g>
<g id="legend-b" stroke="#000" fill="#000">
<line x1="1370.5" y1="1754.4" x2="1535" y2="1754.4" stroke-width="7"/>
<line x1="1370.5" y1="1842.7" x2="1535" y2="1842.7" stroke-width="6.6" stroke-dasharray="33.5 31.5"/>
<line x1="1370.5" y1="1929" x2="1535" y2="1929" stroke-width="6.4" stroke-dasharray="11 28"/>
<line x1="1370.5" y1="2017.4" x2="1520" y2="2017.4" stroke-width="6.4" stroke-dasharray="39.5 15.7 11.7 15.7"/>
<g stroke="none">
<text transform="translate(1551.5 1778.6) scale(1 1.04)" font-size="71" text-anchor="start">PS-b-PGL(1)</text>
<text transform="translate(1551.5 1867.2) scale(1 1.04)" font-size="71" text-anchor="start">PS-b-PGL(2)</text>
<text transform="translate(1551.5 1953) scale(1 1.04)" font-size="71" text-anchor="start">PS-b-PGL(3)</text>
<text transform="translate(1551.5 2042) scale(1 1.04)" font-size="71" text-anchor="start">PS-b-PGL(4)</text>
</g></g>
</svg></body></html>
